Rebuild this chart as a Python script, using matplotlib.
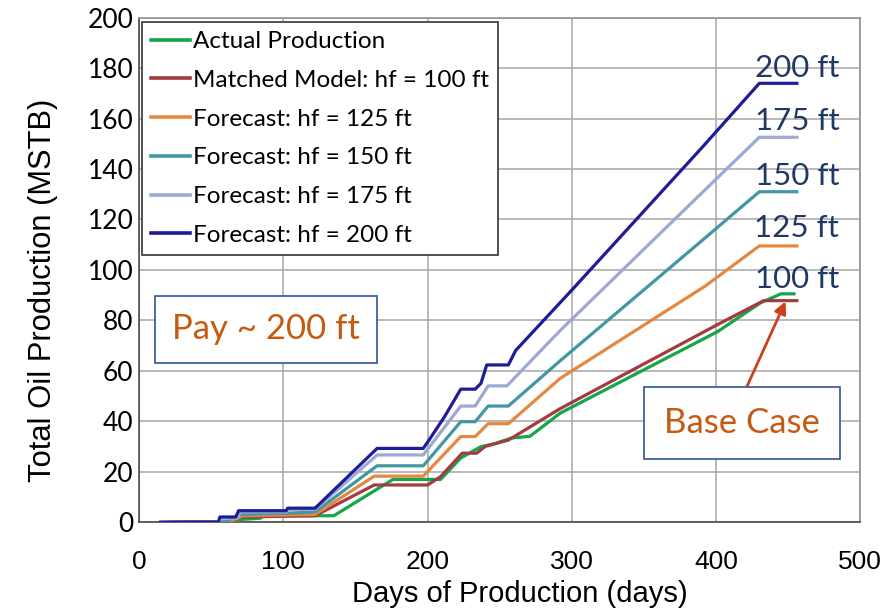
import matplotlib
matplotlib.use('Agg')
import matplotlib.pyplot as plt

# fonts: Calibri-like for the annotations, Arial-like for the axis text
CAL = 'Lato'
ARIAL = 'Liberation Sans'

# data (days, MSTB)
actual_days = [40, 68, 70, 84, 86, 135, 176, 209, 223, 237, 246, 258, 271, 292, 401, 431, 445, 454]
actual_prod = [0, 0, 1, 1.5, 2.5, 2.5, 16.9, 16.9, 25.4, 29.9, 31, 33.3, 34, 43.2, 75.5, 87, 90.5, 90.5]

hf100_days = [30, 62, 72, 122, 163, 200, 209, 224, 234, 240, 256, 292, 400, 433, 456]
hf100_prod = [0, 0, 2, 2.5, 14.7, 14.7, 18, 27.3, 27.3, 30, 32.5, 45, 78, 87.8, 87.8]

hf125_days = [30, 62, 72, 122, 163, 197, 223, 233, 242, 256, 292, 392, 430, 456]
hf125_prod = [0, 0, 2.5, 3, 18.2, 18.2, 33.9, 33.9, 39, 39, 57, 93.4, 109.5, 109.5]

hf150_days = [25, 60, 70, 102, 122, 165, 197, 223, 233, 242, 256, 292, 391, 430, 456]
hf150_prod = [0, 0, 3, 3.5, 4, 22.3, 22.3, 39.8, 39.8, 46, 46, 64, 112, 131, 131]

hf175_days = [20, 55, 57, 68, 70, 102, 103, 122, 165, 197, 223, 233, 242, 255, 292, 391, 430, 456]
hf175_prod = [0, 0, 1.5, 1.5, 4, 4, 5, 5, 26.6, 26.6, 46, 46, 54, 54, 76, 131, 152.6, 152.6]

hf200_days = [15, 55, 56, 67, 69, 102, 103, 122, 165, 197, 201, 212, 223, 233, 237, 241, 256, 261,
              274, 300, 391, 430, 456]
hf200_prod = [0, 0, 2, 2, 4.5, 4.5, 5.5, 5.5, 29.2, 29.2, 32.5, 42, 52.7, 52.7, 55, 62.3, 62.3, 68,
              76, 92, 149, 174, 174]

series = [
    (actual_days, actual_prod, 'Actual Production', '#14A64B'),
    (hf100_days, hf100_prod, 'Matched Model: hf = 100 ft', '#A33B40'),
    (hf125_days, hf125_prod, 'Forecast: hf = 125 ft', '#E5883F'),
    (hf150_days, hf150_prod, 'Forecast: hf = 150 ft', '#4197A3'),
    (hf175_days, hf175_prod, 'Forecast: hf = 175 ft', '#9AAAD2'),
    (hf200_days, hf200_prod, 'Forecast: hf = 200 ft', '#201B96'),
]

end_labels = ['100 ft', '125 ft', '150 ft', '175 ft', '200 ft']
end_label_y = [96.4, 116.7, 137.3, 159, 180]

fig = plt.figure(figsize=(8.86, 6.12), dpi=100)
ax = fig.add_axes([0.157, 0.147, 0.814, 0.824])

for d, p, lab, c in series:
    ax.plot(d, p, color=c, lw=2.3, label=lab, zorder=3)

ax.set_xlim(0, 500)
ax.set_ylim(0, 200)
ax.set_xticks(range(0, 501, 100))
ax.set_yticks(range(0, 201, 20))
ax.grid(True, color='#A6A6A6', lw=1.1)
ax.set_axisbelow(True)
for s in ax.spines.values():
    s.set_color('#8C8C8C')
    s.set_linewidth(1.1)
ax.spines['left'].set_color('#404040')
ax.spines['bottom'].set_color('#404040')
ax.tick_params(axis='both', length=0)
ax.tick_params(axis='x', pad=20)
ax.tick_params(axis='y', pad=4)
for t in ax.get_yticklabels():
    t.set_fontfamily(CAL)
    t.set_fontsize(19)
for t in ax.get_xticklabels():
    t.set_fontfamily(ARIAL)
    t.set_fontsize(19)

ax.set_xlabel('Days of Production (days)', fontsize=21, family=ARIAL)
ax.xaxis.set_label_coords(0.528, -0.115)
ax.set_ylabel('Total Oil Production (MSTB)', fontsize=22.2, family=ARIAL)
ax.yaxis.set_label_coords(-0.112, 0.46)

leg = ax.legend(loc='upper left', bbox_to_anchor=(0.004, 0.992), borderaxespad=0,
                prop={'family': CAL, 'size': 17.5},
                frameon=True, fancybox=False, edgecolor='#333333', framealpha=1,
                handlelength=1.6, handletextpad=0.12, labelspacing=0.73, borderpad=0.38)
leg.get_frame().set_linewidth(1.2)
for h in leg.get_lines():
    h.set_linewidth(2.6)

for lab, y in zip(end_labels, end_label_y):
    ax.text(456, y, lab, color='#203864', fontsize=22.5, family=CAL, ha='center', va='center')

box = dict(boxstyle='square,pad=0.5', fc='white', ec='#2F5597', lw=1.2)
ax.text(88, 76.5, 'Pay ~ 200 ft', color='#C55A11', fontsize=25, family=CAL,
        ha='center', va='center', bbox=box, zorder=5)
ax.annotate('', xy=(449, 88.5), xytext=(420, 52),
            arrowprops=dict(arrowstyle='-|>', color='#C9421A', lw=2, mutation_scale=18), zorder=4)
ax.text(418, 39.3, 'Base Case', color='#C55A11', fontsize=25, family=CAL,
        ha='center', va='center', bbox=dict(box, boxstyle='square,pad=0.58'), zorder=5)

fig.savefig('out.png', dpi=100)
